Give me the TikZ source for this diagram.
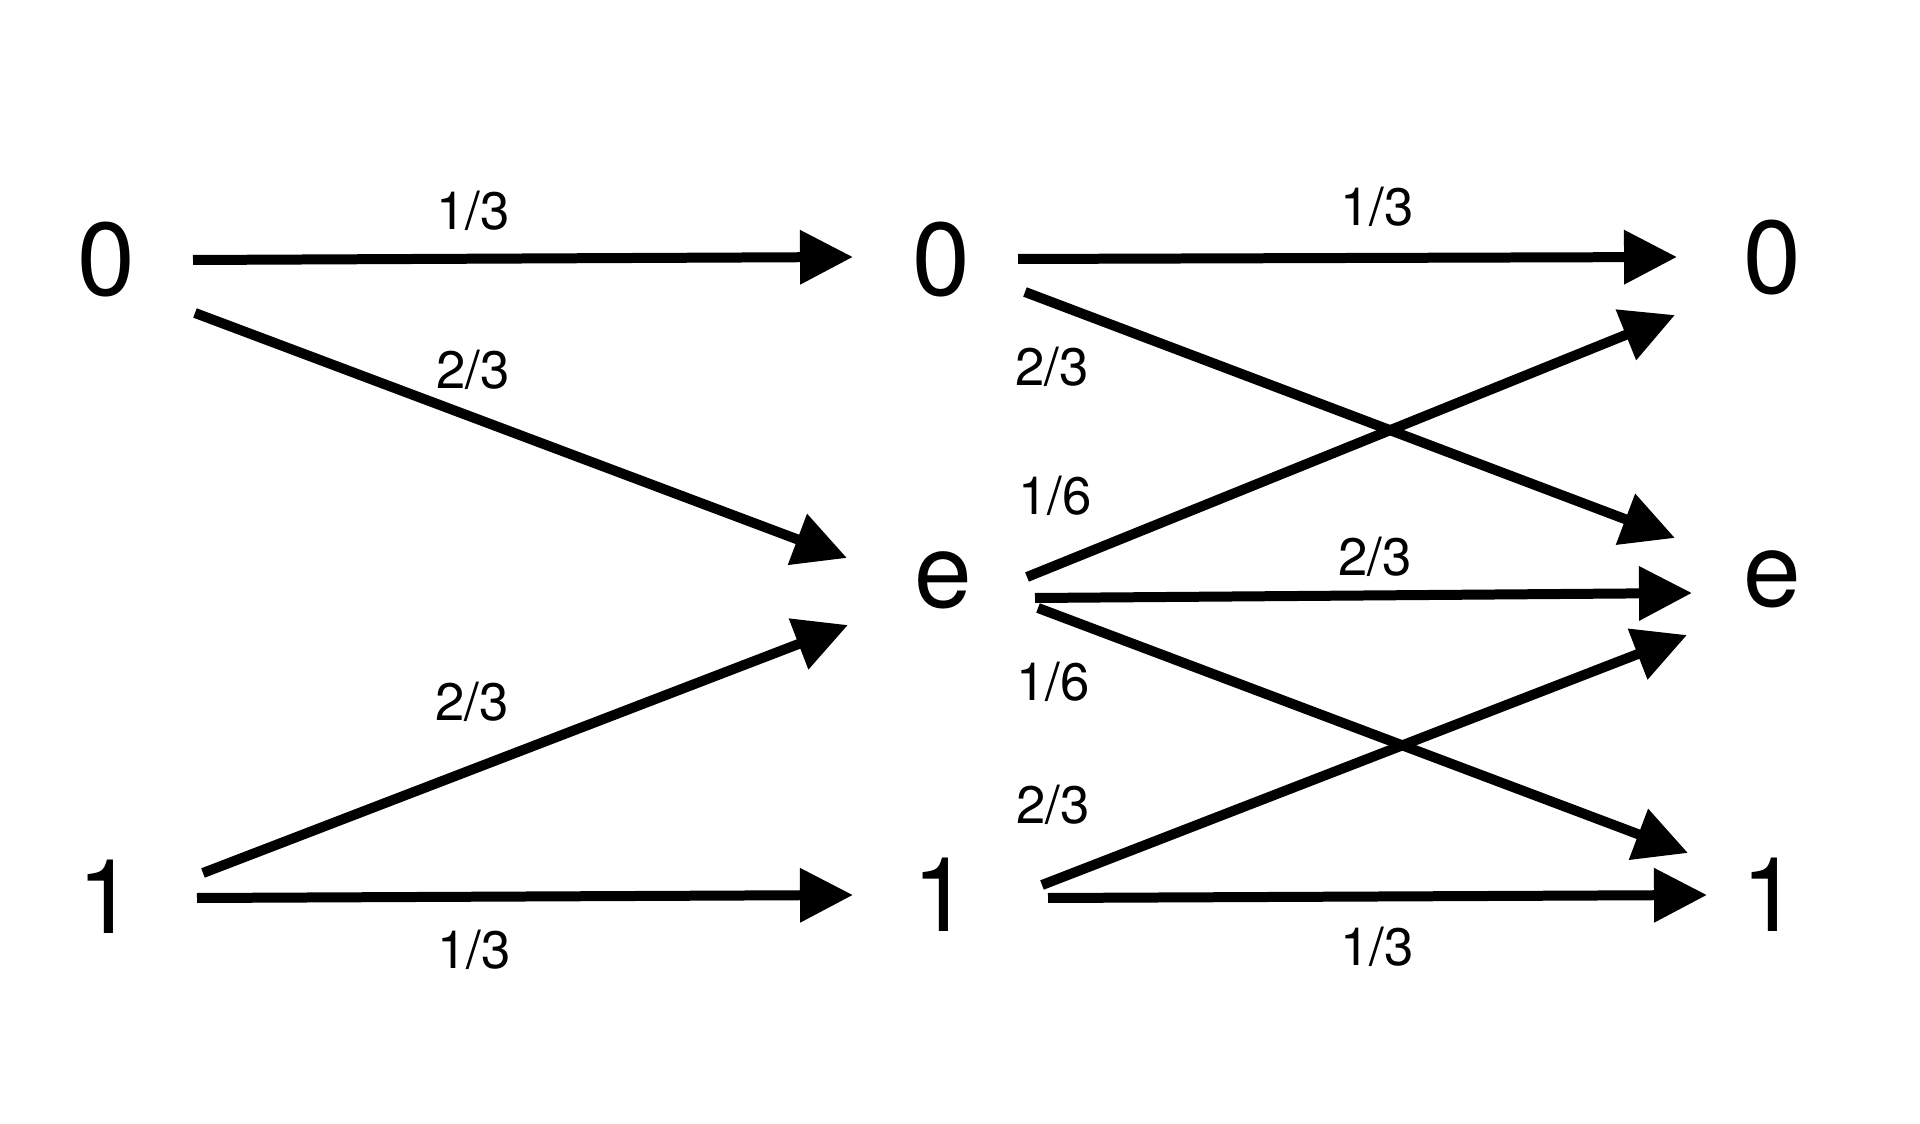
\documentclass[tikz,border=0pt]{standalone}
\usepackage{fontspec}
\setmainfont{TeX Gyre Heros}
\usetikzlibrary{arrows.meta}
\tikzset{
  state/.style={inner sep=0pt, anchor=center, font=\fontsize{59}{59}\selectfont},
  prob/.style={inner sep=0pt, anchor=center, font=\fontsize{30}{30}\selectfont},
  arr/.style={line width=0.2cm, -{Triangle[length=1.06cm,width=1.04cm]}},
}
\begin{document}
\begin{tikzpicture}[x=0.02cm,y=-0.02cm]
\fill[white] (0,0) rectangle (1920,1124);
\useasboundingbox (0,0) rectangle (1920,1124);
% states
\node[state] (L0) at (106,260) {0};
\node[state] (L1) at (106,897) {1};
\node[state] (M0) at (941,260) {0};
\node[state] (Me) at (943,580) {e};
\node[state] (M1) at (941,895) {1};
\node[state] (R0) at (1772,258) {0};
\node[state] (Re) at (1772,579) {e};
\node[state] (R1) at (1770,895) {1};
% connectors
\draw[arr] ([shift={(87,0)}]L0.center) -- ([shift={(-88,-3)}]M0.center);
\draw[arr] ([shift={(89,53)}]L0.center) -- ([shift={(-96,-22)}]Me.center);
\draw[arr] ([shift={(97,-24)}]L1.center) -- ([shift={(-95,45)}]Me.center);
\draw[arr] ([shift={(91,1)}]L1.center) -- ([shift={(-88,0)}]M1.center);
\draw[arr] ([shift={(77,-1)}]M0.center) -- ([shift={(-95,-1)}]R0.center);
\draw[arr] ([shift={(84,32)}]M0.center) -- ([shift={(-97,-41)}]Re.center);
\draw[arr] ([shift={(84,-3)}]Me.center) -- ([shift={(-97,57)}]R0.center);
\draw[arr] ([shift={(92,18)}]Me.center) -- ([shift={(-80,14)}]Re.center);
\draw[arr] ([shift={(95,28)}]Me.center) -- ([shift={(-82,-42)}]R1.center);
\draw[arr] ([shift={(101,-10)}]M1.center) -- ([shift={(-85,56)}]Re.center);
\draw[arr] ([shift={(107,3)}]M1.center) -- ([shift={(-63,0)}]R1.center);
% labels
\node[prob] (p1) at (473,211) {1/3};
\node[prob] (p2) at (473,370) {2/3};
\node[prob] (p3) at (472,702) {2/3};
\node[prob] (p4) at (474,950) {1/3};
\node[prob] (p5) at (1377,207) {1/3};
\node[prob] (p6) at (1052,367) {2/3};
\node[prob] (p7) at (1055,496) {1/6};
\node[prob] (p8) at (1375,557) {2/3};
\node[prob] (p9) at (1053,682) {1/6};
\node[prob] (p10) at (1053,805) {2/3};
\node[prob] (p11) at (1377,947) {1/3};
\end{tikzpicture}
\end{document}
